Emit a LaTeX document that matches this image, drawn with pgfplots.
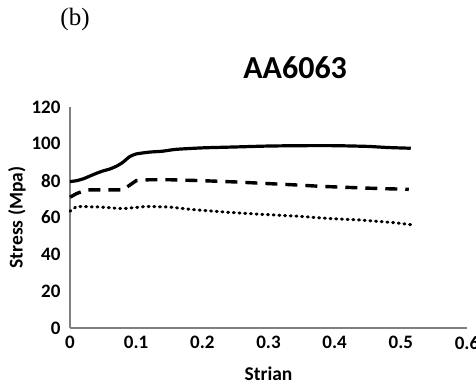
\documentclass[border=0pt]{standalone}
\usepackage{pgfplots}
\pgfplotsset{compat=1.18}
\usepackage{fontspec}
\setmainfont{Carlito}
\newfontfamily\timesfont{Liberation Serif}
\begin{document}
\begin{tikzpicture}
\useasboundingbox (-70bp,-59bp) rectangle (406bp,328bp);
\begin{axis}[
  at={(0,0)}, anchor=south west,
  scale only axis, width=397bp, height=221bp,
  xmin=0, xmax=0.6, ymin=0, ymax=120,
  axis lines=left, axis line style={draw=black!50, line width=1.2bp, -},
  xtick={0,0.1,...,0.6}, ytick={0,20,...,120},
  xticklabels={0,0.1,0.2,0.3,0.4,0.5,0.6},
  major tick length=0pt,
  tick label style={font=\fontsize{19bp}{20bp}\selectfont\bfseries},
  /pgf/number format/assume math mode=true,
  yticklabel style={xshift=-6bp},
  xticklabel style={yshift=-5bp},
  xlabel={Strian}, ylabel={Stress (Mpa)},
  label style={font=\fontsize{19.5bp}{21bp}\selectfont\bfseries},
  xlabel style={yshift=-10bp},
  ylabel style={yshift=-1bp},
  clip=false,
]
\addplot[black, line width=3.2bp, smooth, tension=0.4] coordinates {
(0,79.5)(0.01,80)(0.02,81)(0.03,82.5)(0.04,84)(0.05,85.3)(0.06,86.3)(0.07,87.8)(0.08,90)(0.09,93)(0.1,94.5)(0.12,95.5)(0.14,96)(0.16,97)(0.2,97.8)(0.25,98.3)(0.3,98.8)(0.35,99)(0.4,99)(0.45,98.6)(0.48,98)(0.515,97.6)};
\addplot[black, line width=3.4bp, dash pattern=on 12bp off 8bp] coordinates {
(0,71)(0.01,73)(0.025,75)(0.05,75)(0.08,75)(0.09,77.5)(0.1,80)(0.12,80.5)(0.15,80.5)(0.2,80)(0.25,79.3)(0.3,78.4)(0.34,77.7)(0.38,76.9)(0.43,76.2)(0.47,75.7)(0.512,75.3)};
\addplot[black, line width=3bp, line cap=round, dash pattern=on 1bp off 4.7bp] coordinates {
(0,63.4)(0.01,66)(0.045,65.7)(0.08,64.8)(0.115,66)(0.15,65.7)(0.185,64.3)(0.24,62.8)(0.29,61.7)(0.34,60.8)(0.39,59.5)(0.44,58.6)(0.49,57.2)(0.52,55.9)};
\node[font=\fontsize{32bp}{34bp}\selectfont\bfseries] at (rel axis cs:0.567,1.18) {AA6063};
\end{axis}
\node[font=\timesfont\fontsize{25bp}{27bp}\selectfont, anchor=base] at (5bp,302bp) {(b)};
\end{tikzpicture}
\end{document}
